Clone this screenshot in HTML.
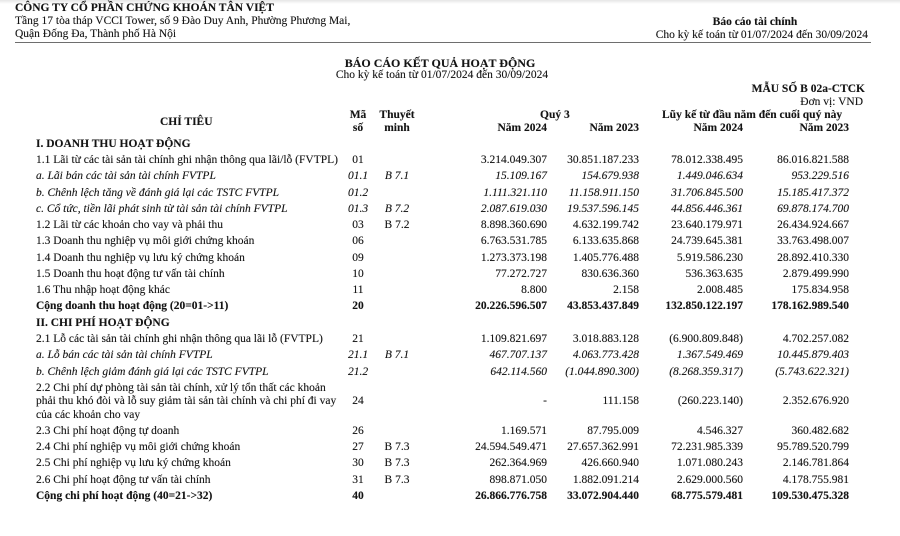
<!DOCTYPE html>
<html lang="vi">
<head>
<meta charset="utf-8">
<style>
html,body{margin:0;padding:0;background:#fff;}
body{width:900px;height:536px;position:relative;overflow:hidden;
font-family:"Liberation Serif","Noto Serif CJK SC",serif;font-size:11.5px;color:#141414;}
.topshade{position:absolute;left:0;top:0;width:900px;height:4px;background:linear-gradient(#e6e6e6,#fff);}
.t{position:absolute;white-space:nowrap;line-height:16px;height:16px;text-shadow:0 0 0.4px rgba(0,0,0,0.5);}
.b{font-weight:bold;}
.i{font-style:italic;}
.r{text-align:right;}
.c{text-align:center;}
.rule{position:absolute;left:15px;top:42px;width:856px;height:1px;background:#6e6e6e;}
.lab{left:36px;}
.ma{left:333px;width:50px;text-align:center;}
.tm{left:372px;width:50px;text-align:center;}
.v1{left:447px;width:100px;text-align:right;}
.v2{left:539px;width:100px;text-align:right;}
.v3{left:643px;width:100px;text-align:right;}
.v4{left:749px;width:100px;text-align:right;}
</style>
</head>
<body>
<div class="topshade"></div>

<div class="t b" style="left:15px;top:0px;">CÔNG TY CỔ PHẦN CHỨNG KHOÁN TÂN VIỆT</div>
<div class="t" style="left:15px;top:13px;">Tầng 17 tòa tháp VCCI Tower, số 9 Đào Duy Anh, Phường Phương Mai,</div>
<div class="t" style="left:15px;top:26px;">Quận Đống Đa, Thành phố Hà Nội</div>

<div class="t b c" style="left:655px;width:200px;top:14px;">Báo cáo tài chính</div>
<div class="t r" style="left:600px;width:268px;top:27px;">Cho kỳ kế toán từ 01/07/2024 đến 30/09/2024</div>
<div class="rule"></div>

<div class="t b c" style="left:290px;width:300px;top:55px;font-size:12px;">BÁO CÁO KẾT QUẢ HOẠT ĐỘNG</div>
<div class="t c" style="left:292px;width:300px;top:67px;">Cho kỳ kế toán từ 01/07/2024 đến 30/09/2024</div>

<div class="t b r" style="left:665px;width:200px;top:81px;">MẪU SỐ B 02a-CTCK</div>
<div class="t r" style="left:665px;width:198px;top:94px;">Đơn vị: VND</div>

<div class="t b" style="left:160px;top:114px;">CHỈ TIÊU</div>
<div class="t b ma" style="top:107px;">Mã</div>
<div class="t b ma" style="top:120px;">số</div>
<div class="t b tm" style="top:107px;">Thuyết</div>
<div class="t b tm" style="top:120px;">minh</div>
<div class="t b" style="left:540px;top:107px;">Quý 3</div>
<div class="t b" style="left:662px;top:107px;">Lũy kế từ đầu năm đến cuối quý này</div>
<div class="t b v1" style="top:120px;">Năm 2024</div>
<div class="t b v2" style="top:120px;">Năm 2023</div>
<div class="t b v3" style="top:120px;">Năm 2024</div>
<div class="t b v4" style="top:120px;">Năm 2023</div>

<!-- I -->
<div class="t b lab" style="top:136px;">I. DOANH THU HOẠT ĐỘNG</div>

<div class="t lab" style="top:152px;">1.1 Lãi từ các tài sản tài chính ghi nhận thông qua lãi/lỗ (FVTPL)</div>
<div class="t ma" style="top:152px;">01</div>
<div class="t v1" style="top:152px;">3.214.049.307</div>
<div class="t v2" style="top:152px;">30.851.187.233</div>
<div class="t v3" style="top:152px;">78.012.338.495</div>
<div class="t v4" style="top:152px;">86.016.821.588</div>

<div class="t i lab" style="top:168.3px;">a. Lãi bán các tài sản tài chính FVTPL</div>
<div class="t i ma" style="top:168.3px;">01.1</div>
<div class="t i tm" style="top:168.3px;">B 7.1</div>
<div class="t i v1" style="top:168.3px;">15.109.167</div>
<div class="t i v2" style="top:168.3px;">154.679.938</div>
<div class="t i v3" style="top:168.3px;">1.449.046.634</div>
<div class="t i v4" style="top:168.3px;">953.229.516</div>

<div class="t i lab" style="top:184.5px;">b. Chênh lệch tăng về đánh giá lại các TSTC FVTPL</div>
<div class="t i ma" style="top:184.5px;">01.2</div>
<div class="t i v1" style="top:184.5px;">1.111.321.110</div>
<div class="t i v2" style="top:184.5px;">11.158.911.150</div>
<div class="t i v3" style="top:184.5px;">31.706.845.500</div>
<div class="t i v4" style="top:184.5px;">15.185.417.372</div>

<div class="t i lab" style="top:200.8px;">c. Cổ tức, tiền lãi phát sinh từ tài sản tài chính FVTPL</div>
<div class="t i ma" style="top:200.8px;">01.3</div>
<div class="t i tm" style="top:200.8px;">B 7.2</div>
<div class="t i v1" style="top:200.8px;">2.087.619.030</div>
<div class="t i v2" style="top:200.8px;">19.537.596.145</div>
<div class="t i v3" style="top:200.8px;">44.856.446.361</div>
<div class="t i v4" style="top:200.8px;">69.878.174.700</div>

<div class="t lab" style="top:217px;">1.2 Lãi từ các khoản cho vay và phải thu</div>
<div class="t ma" style="top:217px;">03</div>
<div class="t tm" style="top:217px;">B 7.2</div>
<div class="t v1" style="top:217px;">8.898.360.690</div>
<div class="t v2" style="top:217px;">4.632.199.742</div>
<div class="t v3" style="top:217px;">23.640.179.971</div>
<div class="t v4" style="top:217px;">26.434.924.667</div>

<div class="t lab" style="top:233.3px;">1.3 Doanh thu nghiệp vụ môi giới chứng khoán</div>
<div class="t ma" style="top:233.3px;">06</div>
<div class="t v1" style="top:233.3px;">6.763.531.785</div>
<div class="t v2" style="top:233.3px;">6.133.635.868</div>
<div class="t v3" style="top:233.3px;">24.739.645.381</div>
<div class="t v4" style="top:233.3px;">33.763.498.007</div>

<div class="t lab" style="top:249.5px;">1.4 Doanh thu nghiệp vụ lưu ký chứng khoán</div>
<div class="t ma" style="top:249.5px;">09</div>
<div class="t v1" style="top:249.5px;">1.273.373.198</div>
<div class="t v2" style="top:249.5px;">1.405.776.488</div>
<div class="t v3" style="top:249.5px;">5.919.586.230</div>
<div class="t v4" style="top:249.5px;">28.892.410.330</div>

<div class="t lab" style="top:265.8px;">1.5 Doanh thu hoạt động tư vấn tài chính</div>
<div class="t ma" style="top:265.8px;">10</div>
<div class="t v1" style="top:265.8px;">77.272.727</div>
<div class="t v2" style="top:265.8px;">830.636.360</div>
<div class="t v3" style="top:265.8px;">536.363.635</div>
<div class="t v4" style="top:265.8px;">2.879.499.990</div>

<div class="t lab" style="top:282px;">1.6 Thu nhập hoạt động khác</div>
<div class="t ma" style="top:282px;">11</div>
<div class="t v1" style="top:282px;">8.800</div>
<div class="t v2" style="top:282px;">2.158</div>
<div class="t v3" style="top:282px;">2.008.485</div>
<div class="t v4" style="top:282px;">175.834.958</div>

<div class="t b lab" style="top:298.3px;">Cộng doanh thu hoạt động (20=01-&gt;11)</div>
<div class="t b ma" style="top:298.3px;">20</div>
<div class="t b v1" style="top:298.3px;">20.226.596.507</div>
<div class="t b v2" style="top:298.3px;">43.853.437.849</div>
<div class="t b v3" style="top:298.3px;">132.850.122.197</div>
<div class="t b v4" style="top:298.3px;">178.162.989.540</div>

<!-- II -->
<div class="t b lab" style="top:314.5px;">II. CHI PHÍ HOẠT ĐỘNG</div>

<div class="t lab" style="top:331px;">2.1 Lỗ các tài sản tài chính ghi nhận thông qua lãi lỗ (FVTPL)</div>
<div class="t ma" style="top:331px;">21</div>
<div class="t v1" style="top:331px;">1.109.821.697</div>
<div class="t v2" style="top:331px;">3.018.883.128</div>
<div class="t v3" style="top:331px;">(6.900.809.848)</div>
<div class="t v4" style="top:331px;">4.702.257.082</div>

<div class="t i lab" style="top:347.3px;">a. Lỗ bán các tài sản tài chính FVTPL</div>
<div class="t i ma" style="top:347.3px;">21.1</div>
<div class="t i tm" style="top:347.3px;">B 7.1</div>
<div class="t i v1" style="top:347.3px;">467.707.137</div>
<div class="t i v2" style="top:347.3px;">4.063.773.428</div>
<div class="t i v3" style="top:347.3px;">1.367.549.469</div>
<div class="t i v4" style="top:347.3px;">10.445.879.403</div>

<div class="t i lab" style="top:363.8px;">b. Chênh lệch giảm đánh giá lại các TSTC FVTPL</div>
<div class="t i ma" style="top:363.8px;">21.2</div>
<div class="t i v1" style="top:363.8px;">642.114.560</div>
<div class="t i v2" style="top:363.8px;">(1.044.890.300)</div>
<div class="t i v3" style="top:363.8px;">(8.268.359.317)</div>
<div class="t i v4" style="top:363.8px;">(5.743.622.321)</div>

<div class="t lab" style="top:379.5px;">2.2 Chi phí dự phòng tài sản tài chính, xử lý tổn thất các khoản</div>
<div class="t lab" style="top:393px;">phải thu khó đòi và lỗ suy giảm tài sản tài chính và chi phí đi vay</div>
<div class="t lab" style="top:406.5px;">của các khoản cho vay</div>
<div class="t ma" style="top:393px;">24</div>
<div class="t v1" style="top:393px;">-</div>
<div class="t v2" style="top:393px;">111.158</div>
<div class="t v3" style="top:393px;">(260.223.140)</div>
<div class="t v4" style="top:393px;">2.352.676.920</div>

<div class="t lab" style="top:422.5px;">2.3 Chi phí hoạt động tự doanh</div>
<div class="t ma" style="top:422.5px;">26</div>
<div class="t v1" style="top:422.5px;">1.169.571</div>
<div class="t v2" style="top:422.5px;">87.795.009</div>
<div class="t v3" style="top:422.5px;">4.546.327</div>
<div class="t v4" style="top:422.5px;">360.482.682</div>

<div class="t lab" style="top:439px;">2.4 Chi phí nghiệp vụ môi giới chứng khoán</div>
<div class="t ma" style="top:439px;">27</div>
<div class="t tm" style="top:439px;">B 7.3</div>
<div class="t v1" style="top:439px;">24.594.549.471</div>
<div class="t v2" style="top:439px;">27.657.362.991</div>
<div class="t v3" style="top:439px;">72.231.985.339</div>
<div class="t v4" style="top:439px;">95.789.520.799</div>

<div class="t lab" style="top:455px;">2.5 Chi phí nghiệp vụ lưu ký chứng khoán</div>
<div class="t ma" style="top:455px;">30</div>
<div class="t tm" style="top:455px;">B 7.3</div>
<div class="t v1" style="top:455px;">262.364.969</div>
<div class="t v2" style="top:455px;">426.660.940</div>
<div class="t v3" style="top:455px;">1.071.080.243</div>
<div class="t v4" style="top:455px;">2.146.781.864</div>

<div class="t lab" style="top:471.5px;">2.6 Chi phí hoạt động tư vấn tài chính</div>
<div class="t ma" style="top:471.5px;">31</div>
<div class="t tm" style="top:471.5px;">B 7.3</div>
<div class="t v1" style="top:471.5px;">898.871.050</div>
<div class="t v2" style="top:471.5px;">1.882.091.214</div>
<div class="t v3" style="top:471.5px;">2.629.000.560</div>
<div class="t v4" style="top:471.5px;">4.178.755.981</div>

<div class="t b lab" style="top:487.5px;">Cộng chi phí hoạt động (40=21-&gt;32)</div>
<div class="t b ma" style="top:487.5px;">40</div>
<div class="t b v1" style="top:487.5px;">26.866.776.758</div>
<div class="t b v2" style="top:487.5px;">33.072.904.440</div>
<div class="t b v3" style="top:487.5px;">68.775.579.481</div>
<div class="t b v4" style="top:487.5px;">109.530.475.328</div>

</body>
</html>
